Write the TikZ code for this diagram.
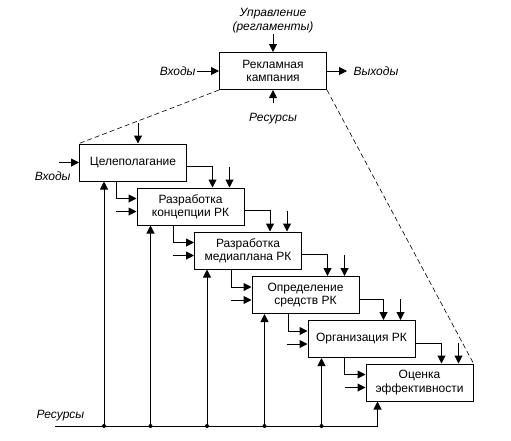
\documentclass[tikz,border=0pt]{standalone}
\usepackage{fontspec}
\setmainfont{Liberation Sans}
\usetikzlibrary{arrows.meta, calc, positioning}
\newcommand\dgfont{\fontsize{12}{13.4}\selectfont}

\begin{document}
\begin{tikzpicture}[x=1pt, y=-1pt, node distance=20pt, line width=1pt,
      BX/.style = {draw, minimum width=107pt, minimum height=37pt,
                   align=center, inner sep=2pt, font=\dgfont},
      LB/.style = {font=\dgfont\itshape, align=center, inner sep=1pt},
      AR/.style = {-{Triangle[length=8pt, width=8pt]}},
      DS/.style = {dash pattern=on 5pt off 3pt, line width=0.6pt} ]
  \useasboundingbox (0,0) rectangle (511,440);

  % context
  \node[BX] (rk) at (273,71) {Рекламная\\кампания};
  \node[LB, above=18pt of rk] (upr) {Управление\\(регламенты)};
  \node[LB, left=22pt of rk] (vh) {Входы};
  \node[LB, right=25pt of rk] (vyh) {Выходы};
  \node[LB, below=22pt of rk] (res) {Ресурсы};
  \draw[AR] (upr) -- (rk);
  \draw[AR] (vh) -- (rk);
  \draw[AR, shorten >=5pt] (rk) -- (vyh);
  \draw[AR, shorten <=9pt] (res) -- (rk);

  % decomposition
  \node[BX] (b1) at (133,162.5) {Целеполагание};
  \node[BX] (b2) at (190.5,206.5) {Разработка\\концепции РК};
  \node[BX] (b3) at (248,250.5) {Разработка\\медиаплана РК};
  \node[BX] (b4) at (305.5,295) {Определение\\средств РК};
  \node[BX] (b5) at (361.5,339) {Организация РК};
  \node[BX] (b6) at (419.5,382.5) {Оценка\\эффективности};

  \draw[DS] (rk.south west) -- (b1.north west);
  \draw[DS] (rk.south east) -- (b6.north east);

  \draw[AR] ($(b1.west)+(-20,0)$) -- (b1.west);
  \node[LB, below left=8pt and 7pt of b1.west] (vh1) {Входы};
  \draw[AR] ($(b1.north west)+(59,-21)$) -- ++(0,21);

  \foreach \i/\j in {1/2,2/3,3/4,4/5,5/6} {
    \draw[AR] ($(b\i.south west)+(37,0)$) |- ($(b\j.north west)+(0,11)$);
    \draw[AR] ($(b\j.north west)+(-21,24)$) -- ++(21,0);
    \draw[AR] ($(b\i.north east)+(0,23)$) -| ($(b\j.north west)+(76,0)$);
    \draw[AR] ($(b\j.north west)+(93,-21)$) -- ++(0,21);
  }

  % resources
  \coordinate (rs) at (55,426);
  \node[LB, above right=4pt and -20pt of rs] (res2) {Ресурсы};
  \foreach \i/\d in {1/25,2/14,3/13,4/13,5/14} {
    \coordinate (r\i) at ($(b\i.south west)+(\d,0)$);
    \draw[AR] (r\i |- rs) -- (r\i);
    \fill (r\i |- rs) circle (2pt);
  }
  \draw[AR] (rs) -| ($(b6.south west)+(12,0)$);
\end{tikzpicture}
\end{document}
